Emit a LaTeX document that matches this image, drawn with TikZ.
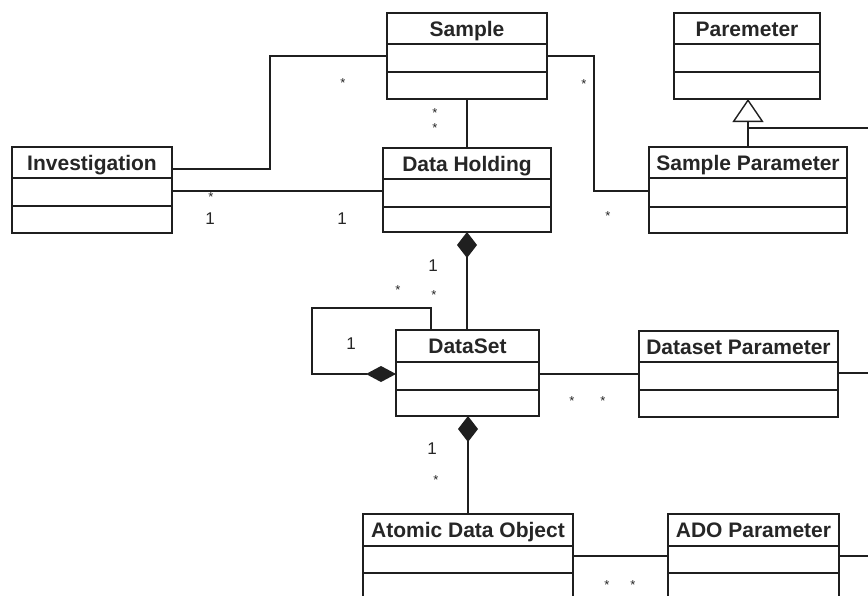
\documentclass[tikz,border=0pt]{standalone}
\usepackage{fontspec}
\setmainfont{Liberation Sans}
\usetikzlibrary{arrows.meta}

\tikzset{
  ink/.style={draw=black!88},
  classbox/.style={ink, line width=1.6pt, rectangle, inner sep=0pt, outer sep=0pt},
  divider/.style={ink, line width=1.6pt},
  classname/.style={font=\fontsize{21}{25}\selectfont\bfseries, text=black!85,
    inner sep=0pt, text height=15pt, text depth=0pt},
  link/.style={ink, line width=1.4pt},
  compv/.style={link, -{Diamond[width=20pt,length=26pt]}},
  comph/.style={link, -{Diamond[width=16pt,length=30pt]}},
  gen/.style={link, -{Triangle[open, width=31pt, length=23pt, fill=white]}},
  mult/.style={font=\fontsize{17}{20}\selectfont, text=black!85, inner sep=0pt,
    text height=12.2pt, text depth=0pt},
  star/.style={font=\fontsize{13}{15}\selectfont, text=black!85, inner sep=0pt, yshift=-2.8pt}
}

% UML class: name, left, top, right, first divider, second divider, bottom, title
\newcommand\umlclass[8]{%
  \node[classbox, minimum width={(#4-#2)*1pt}, minimum height={(#7-#3)*1pt}]
    (#1) at ({(#2+#4)/2},{(#3+#7)/2}) {};
  \draw[divider] (#2,#5) -- (#4,#5) (#2,#6) -- (#4,#6);
  \node[classname] (#1-t) at ({(#2+#4)/2},{(#3+#5)/2}) {#8};
}

\begin{document}
\begin{tikzpicture}[x=1pt, y=-1pt]
\useasboundingbox (0,0) rectangle (868,595);
\fill[white] (0,0) rectangle (868,595);
\begin{scope}
\clip (0,0) rectangle (868,595);

% classes
\umlclass{sample}{387}{13}{547}{44}{72}{99}{Sample}
\umlclass{param}{674}{13}{820}{44}{72}{99}{Paremeter}
\umlclass{inv}{12}{147}{172}{178}{206}{233}{Investigation}
\umlclass{dh}{383}{148}{551}{179}{207}{232}{Data Holding}
\umlclass{sp}{649}{147}{847}{178}{207}{233}{Sample Parameter}
\umlclass{ds}{396}{330}{539}{362}{390}{416}{DataSet}
\umlclass{dp}{639}{331}{838}{362}{390}{417}{Dataset Parameter}
\umlclass{ado}{363}{514}{573}{546}{573}{620}{Atomic Data Object}
\umlclass{adop}{668}{514}{839}{546}{573}{620}{ADO Parameter}

% free ends running off to the right
\coordinate (genR) at (868,128);
\coordinate (dpR) at (868,373);
\coordinate (adopR) at (868,556);

% associations
\draw[link] (inv.east |- 0,169) -| (270,120) |- (sample.west |- 0,56);
\draw[link] (inv.east |- 0,191) -- (dh.west |- 0,191);
\draw[link] (sample.south) -- (dh.north);
\draw[link] (sample.east |- 0,56) -| (594,120) |- (sp.west |- 0,191);
\draw[link] (ds.east |- 0,374) -- (dp.west |- 0,374);
\draw[link] (dp.east |- dpR) -- (dpR);
\draw[link] (ado.east |- adopR) -- (adop.west |- adopR);
\draw[link] (adop.east |- adopR) -- (adopR);

% generalization
\draw[gen] (sp.north) -- (param.south -| sp.north);
\draw[link] (sp.north |- genR) -- (genR);

% compositions
\draw[compv] (ds.north -| dh.south) -- (dh.south);
\draw[comph] (ds.north -| 431,0) |- (312,308) |- (ds.west |- 0,374);
\draw[compv] (ado.north) -- (ado.north |- ds.south);

% multiplicities
\node[star] (m1) at (343,80) {*};
\node[star] (m2) at (211,194) {*};
\node[mult] (m3) at (210,218) {1};
\node[mult] (m4) at (342,218) {1};
\node[star] (m5) at (435,110) {*};
\node[star] (m6) at (435,125) {*};
\node[star] (m7) at (584,81) {*};
\node[star] (m8) at (608,213) {*};
\node[mult] (m9) at (433,265) {1};
\node[star] (m10) at (398,287) {*};
\node[star] (m11) at (434,292) {*};
\node[mult] (m12) at (351,343) {1};
\node[star] (m13) at (572,398) {*};
\node[star] (m14) at (603,398) {*};
\node[mult] (m15) at (432,448) {1};
\node[star] (m16) at (436,477) {*};
\node[star] (m17) at (607,582) {*};
\node[star] (m18) at (633,582) {*};
\end{scope}
\end{tikzpicture}
\end{document}
